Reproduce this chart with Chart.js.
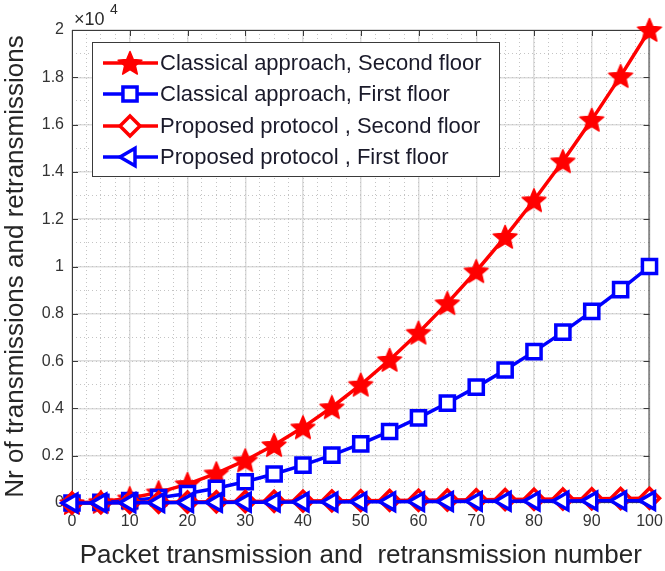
<!DOCTYPE html>
<html>
<head>
<meta charset="utf-8">
<script src="https://cdn.jsdelivr.net/npm/chart.js@4.4.1/dist/chart.umd.min.js"></script>
<style>
  html, body { margin: 0; padding: 0; background: #fff; }
  #wrap { width: 665px; height: 571px; position: relative; }
</style>
</head>
<body>
<div id="wrap"><canvas id="myChart"></canvas></div>
<script>
// data (y values in raw counts, axis shows x10^4)
const xValues = [0, 5, 10, 15, 20, 25, 30, 35, 40, 45, 50, 55, 60, 65, 70, 75, 80, 85, 90, 95, 100];
const classicalSecond = [0, 50, 200, 450, 800, 1250, 1800, 2450, 3200, 4050, 5000, 6050, 7200, 8450, 9800, 11250, 12800, 14450, 16200, 18050, 20000];
const classicalFirst = [0, 25, 100, 225, 400, 625, 900, 1225, 1600, 2025, 2500, 3025, 3600, 4225, 4900, 5625, 6400, 7225, 8100, 9025, 10000];
const proposedSecond = [0, 10, 20, 30, 40, 50, 60, 70, 80, 90, 100, 110, 120, 130, 140, 150, 160, 170, 180, 190, 200];
const proposedFirst = [0, 5, 10, 15, 20, 25, 30, 35, 40, 45, 50, 55, 60, 65, 70, 75, 80, 85, 90, 95, 100];
const seriesNames = ['Classical approach, Second floor', 'Classical approach, First floor', 'Proposed protocol , Second floor', 'Proposed protocol , First floor'];
const xTicks = [0, 10, 20, 30, 40, 50, 60, 70, 80, 90, 100];
const yTicks = [0, 0.2, 0.4, 0.6, 0.8, 1, 1.2, 1.4, 1.6, 1.8, 2];

const RED = '#ff0000';
const BLUE = '#0000ff';
const FONT = '"Liberation Sans", Arial, sans-serif';

function pts(ys) {
    return xValues.map((x, i) => ({ x: x, y: ys[i] }));
}

// filled five point star as marker
function makeStar(size, color) {
    const c = document.createElement('canvas');
    c.width = size; c.height = size;
    const g = c.getContext('2d');
    const cx = size / 2, cy = size / 2 + 1, R = size / 2 - 1.5, r = R * 0.45;
    g.beginPath();
    for (let i = 0; i < 10; i++) {
        const a = -Math.PI / 2 + i * Math.PI / 5;
        const rr = i % 2 === 0 ? R : r;
        g.lineTo(cx + rr * Math.cos(a), cy + rr * Math.sin(a));
    }
    g.closePath();
    g.fillStyle = color;
    g.fill();
    g.strokeStyle = color;
    g.lineWidth = 1.5;
    g.lineJoin = 'round';
    g.stroke();
    return c;
}
const starImg = makeStar(28, RED);

const markers = [
    { style: starImg, radius: 12, rot: 0, color: RED },
    { style: 'rect', radius: 10, rot: 0, color: BLUE },
    { style: 'rectRot', radius: 10, rot: 0, color: RED },
    { style: 'triangle', radius: 10, rot: -90, color: BLUE }
];

function makeSet(i, ys) {
    const m = markers[i];
    return {
        label: seriesNames[i],
        data: pts(ys),
        borderColor: m.color,
        backgroundColor: '#ffffff',
        borderWidth: 3.5,
        pointStyle: m.style,
        pointRadius: m.radius,
        pointRotation: m.rot,
        pointBorderColor: m.color,
        pointBackgroundColor: '#ffffff',
        pointBorderWidth: 3.5,
        order: 3 - i,
        tension: 0,
        clip: false,
        fill: false
    };
}

// box, inward ticks, x10^4 label and legend like matlab
const framePlugin = {
    id: 'frame',
    beforeDatasetsDraw(chart) {
        const ctx = chart.ctx;
        const a = chart.chartArea;
        const xs = chart.scales.x, ys = chart.scales.y;
        ctx.save();
        ctx.strokeStyle = '#3a3a3a';
        ctx.lineWidth = 1;
        ctx.strokeRect(a.left + 0.5, a.top + 0.5, a.right - a.left - 1, a.bottom - a.top - 1);
        ctx.beginPath();
        xTicks.forEach(v => {
            const px = Math.round(xs.getPixelForValue(v)) + 0.5;
            ctx.moveTo(px, a.bottom); ctx.lineTo(px, a.bottom - 6);
            ctx.moveTo(px, a.top); ctx.lineTo(px, a.top + 6);
        });
        yTicks.forEach(v => {
            const py = Math.round(ys.getPixelForValue(v * 10000)) + 0.5;
            ctx.moveTo(a.left, py); ctx.lineTo(a.left + 6, py);
            ctx.moveTo(a.right, py); ctx.lineTo(a.right - 6, py);
        });
        ctx.stroke();
        ctx.restore();
    },
    afterDraw(chart) {
        const ctx = chart.ctx;
        const a = chart.chartArea;
        ctx.save();
        // exponent label
        ctx.fillStyle = '#2a2a2a';
        ctx.textBaseline = 'alphabetic';
        ctx.textAlign = 'left';
        ctx.font = '18px ' + FONT;
        ctx.fillText('\u00d710', a.left + 2, 25);
        ctx.font = '14px ' + FONT;
        ctx.fillText('4', a.left + 38, 14);

        // legend
        const bx = 92, by = 42, bw = 407, bh = 134;
        ctx.fillStyle = '#ffffff';
        ctx.fillRect(bx, by, bw, bh);
        ctx.strokeStyle = '#3a3a3a';
        ctx.lineWidth = 1;
        ctx.strokeRect(bx + 0.5, by + 0.5, bw, bh);
        const rows = [63, 94, 126, 157];
        chart.data.datasets.forEach((ds, i) => {
            const m = markers[i];
            const y = rows[i];
            ctx.strokeStyle = m.color;
            ctx.lineWidth = 3.5;
            ctx.beginPath();
            ctx.moveTo(103, y); ctx.lineTo(158, y);
            ctx.stroke();
            ctx.fillStyle = '#ffffff';
            ctx.strokeStyle = m.color;
            Chart.helpers.drawPoint(ctx, { pointStyle: m.style, radius: m.radius, rotation: m.rot, borderWidth: 3.5 }, 130, y);
            ctx.fillStyle = '#1a1a2a';
            ctx.font = '22px ' + FONT;
            ctx.textBaseline = 'middle';
            ctx.fillText(ds.label, 160, y + 1);
        });
        ctx.restore();
    }
};

const config = {
    type: 'scatter',
    data: {
        datasets: [
            makeSet(0, classicalSecond),
            makeSet(1, classicalFirst),
            makeSet(2, proposedSecond),
            makeSet(3, proposedFirst)
        ]
    },
    options: {
        responsive: false,
        animation: false,
        showLine: true,
        layout: { padding: { top: 30, right: 13, left: 0, bottom: 0 } },
        plugins: {
            legend: { display: false },
            tooltip: { enabled: false }
        },
        scales: {
            x: {
                type: 'linear',
                min: 0, max: 100,
                afterBuildTicks: s => { s.ticks = xTicks.map(v => ({ value: v })); },
                ticks: { font: { size: 16, family: FONT }, color: '#333333', padding: 9, maxRotation: 0 },
                grid: { color: '#dddddd', lineWidth: 1.5, drawTicks: false },
                border: { display: false },
                title: { display: true, text: 'Packet transmission and  retransmission number', font: { size: 26, family: FONT }, color: '#262626', padding: { top: 2, bottom: 0 } },
                afterFit: s => { s.height = 68; s.paddingLeft = 0; s.paddingRight = 0; }
            },
            y: {
                type: 'linear',
                min: 0, max: 20000,
                afterBuildTicks: s => { s.ticks = yTicks.map(v => ({ value: v * 10000 })); },
                ticks: { font: { size: 16, family: FONT }, color: '#333333', padding: 8, callback: v => String(+(v / 10000).toFixed(1)) },
                grid: { color: '#dddddd', lineWidth: 1.5, drawTicks: false },
                border: { display: false },
                title: { display: true, text: 'Nr of transmissions and retransmissions', font: { size: 26, family: FONT }, color: '#262626', padding: { top: 0, bottom: 2 } },
                afterFit: s => { s.width = 72; s.paddingTop = 0; s.paddingBottom = 0; }
            },
            // minor dotted grid
            xMinor: {
                type: 'linear', position: 'bottom', min: 0, max: 100,
                ticks: { display: false, stepSize: 2.5 },
                grid: { color: '#c4c4c4', lineWidth: 1, drawTicks: false },
                border: { display: false, dash: [1, 3] },
                afterFit: s => { s.height = 0; }
            },
            yMinor: {
                type: 'linear', position: 'left', min: 0, max: 20000,
                ticks: { display: false, stepSize: 1000 },
                grid: { color: '#c4c4c4', lineWidth: 1, drawTicks: false },
                border: { display: false, dash: [1, 3] },
                afterFit: s => { s.width = 0; }
            }
        }
    },
    plugins: [framePlugin]
};

const canvas = document.getElementById('myChart');
canvas.width = 665;
canvas.height = 571;
var ctx = canvas.getContext('2d');
var myChart = new Chart(ctx, config);
</script>
</body>
</html>
